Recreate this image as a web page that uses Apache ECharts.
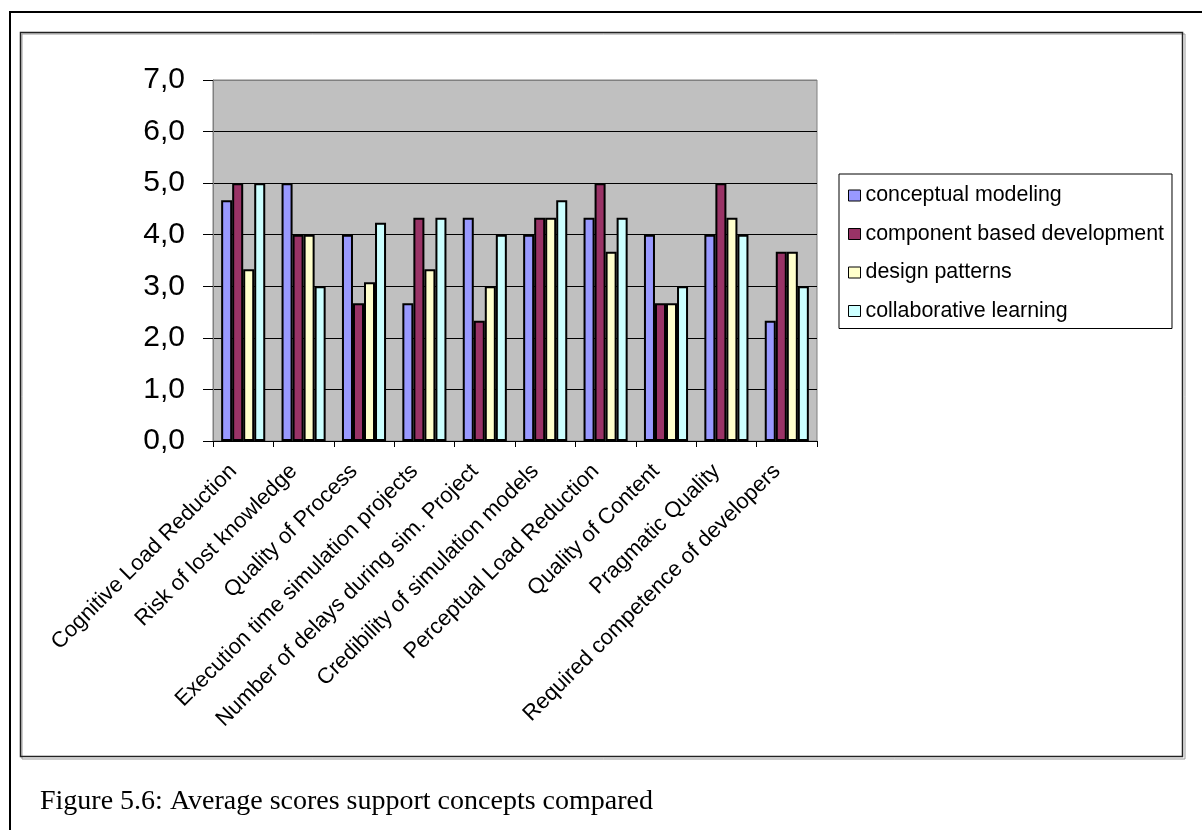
<!DOCTYPE html>
<html lang="en">
<head>
    <meta charset="UTF-8">
    <title>Average scores support concepts compared</title>
    <script src="https://cdn.jsdelivr.net/npm/echarts@6/dist/echarts.min.js"></script>
    <style>
        html, body { margin: 0; padding: 0; background: #fff; }
        #main { width: 1202px; height: 830px; }
    </style>
</head>
<body>
<div id="main"></div>
<script>
    // categories (x axis)
    var categories = [
        'Cognitive Load Reduction',
        'Risk of lost knowledge',
        'Quality of Process',
        'Execution time simulation projects',
        'Number of delays during sim. Project',
        'Credibility of simulation models',
        'Perceptual Load Reduction',
        'Quality of Content',
        'Pragmatic Quality',
        'Required competence of developers'
    ];

    // average scores per support concept
    var conceptualModeling = [4.67, 5.0, 4.0, 2.67, 4.33, 4.0, 4.33, 4.0, 4.0, 2.33];
    var componentBased     = [5.0, 4.0, 2.67, 4.33, 2.33, 4.33, 5.0, 2.67, 5.0, 3.67];
    var designPatterns     = [3.33, 4.0, 3.08, 3.33, 3.0, 4.33, 3.67, 2.67, 4.33, 3.67];
    var collaborative      = [5.0, 3.0, 4.23, 4.33, 4.0, 4.67, 4.33, 3.0, 4.0, 3.0];

    var seriesNames = ['conceptual modeling', 'component based development', 'design patterns', 'collaborative learning'];
    var seriesColors = ['#9999FF', '#993366', '#FFFFCC', '#CCFFFF'];
    var seriesData = [conceptualModeling, componentBased, designPatterns, collaborative];

    // y axis range
    var yMin = 0, yMax = 7, yStep = 1;

    var sansFont = '"Liberation Sans", Arial, sans-serif';

    var chart = echarts.init(document.getElementById('main'));

    var option = {
        animation: false,
        grid: {
            left: 213,
            top: 80,
            width: 604,
            height: 361,
            show: true,
            backgroundColor: '#C0C0C0',
            borderColor: '#808080',
            borderWidth: 1
        },
        legend: {
            orient: 'vertical',
            left: 839,
            top: 174,
            padding: [11, 8, 7, 9],
            itemGap: 17.5,
            itemWidth: 12,
            itemHeight: 11,
            borderColor: '#000',
            borderWidth: 1,
            backgroundColor: '#fff',
            icon: 'rect',
            itemStyle: { borderColor: '#000', borderWidth: 1 },
            textStyle: { fontFamily: sansFont, fontSize: 21.4, color: '#000' },
            data: seriesNames
        },
        xAxis: {
            type: 'category',
            data: categories,
            axisLine: { lineStyle: { color: '#000', width: 1 } },
            axisTick: { show: true, length: 6, lineStyle: { color: '#000' } },
            axisLabel: {
                interval: 0,
                rotate: 45,
                margin: 17,
                padding: [0, 14, 0, 0],
                color: '#000',
                fontFamily: sansFont,
                fontSize: 22
            }
        },
        yAxis: {
            type: 'value',
            min: yMin,
            max: yMax,
            interval: yStep,
            axisLine: { show: true, lineStyle: { color: '#808080' } },
            axisTick: { show: true, inside: false, length: 10, lineStyle: { color: '#000' } },
            axisLabel: {
                margin: 28,
                color: '#000',
                fontFamily: sansFont,
                fontSize: 30,
                formatter: function (v) { return v.toFixed(1).replace('.', ','); }
            },
            splitLine: {
                show: true,
                lineStyle: {
                    color: ['#000', '#000', '#000', '#000', '#000', '#000', '#000', '#808080'],
                    width: 1
                }
            }
        },
        series: seriesNames.map(function (name, i) {
            return {
                name: name,
                type: 'bar',
                data: seriesData[i],
                barGap: '0%',
                barCategoryGap: '27%',
                itemStyle: { color: seriesColors[i], borderColor: '#000', borderWidth: 2 }
            };
        }),
        graphic: [
            // outer page frame
            {
                type: 'polyline',
                shape: { points: [[10, 830], [10, 12], [1202, 12]] },
                style: { stroke: '#000', lineWidth: 2, fill: null },
                silent: true
            },
            // chart area frame with a slight shadow
            {
                type: 'rect',
                shape: { x: 22, y: 34, width: 1163, height: 725 },
                style: { stroke: '#999', lineWidth: 1, fill: null },
                silent: true
            },
            {
                type: 'rect',
                shape: { x: 20.5, y: 32.5, width: 1162, height: 724 },
                style: { stroke: '#222', lineWidth: 1.5, fill: null },
                silent: true
            },
            {
                type: 'text',
                left: 40,
                top: 788,
                style: {
                    text: 'Figure 5.6: Average scores support concepts compared',
                    font: '28px "Liberation Serif", "Times New Roman", serif',
                    fill: '#000'
                },
                silent: true
            }
        ]
    };

    chart.setOption(option);
</script>
</body>
</html>
